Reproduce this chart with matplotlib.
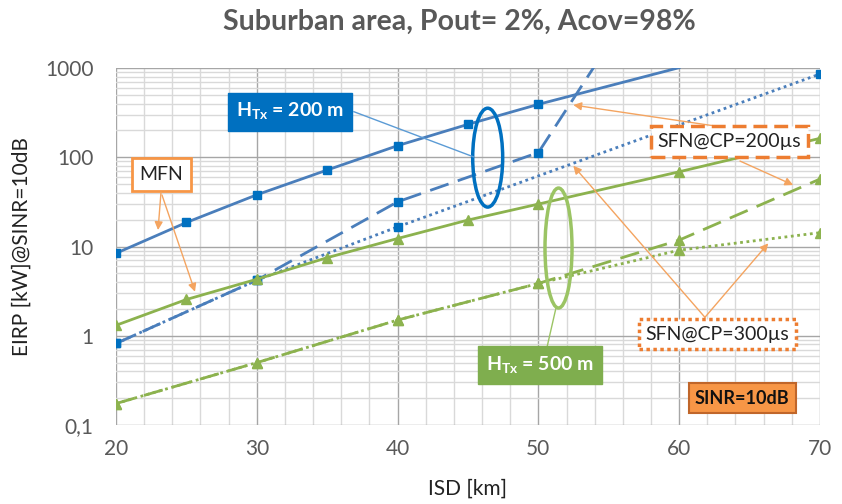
import matplotlib
matplotlib.use('Agg')
import matplotlib.pyplot as plt
from matplotlib.patches import Ellipse
from matplotlib.ticker import FixedLocator, LogLocator, NullFormatter

plt.rcParams['font.family'] = ['Lato', 'DejaVu Sans']
plt.rcParams['mathtext.fontset'] = 'custom'
plt.rcParams['mathtext.bf'] = 'Lato:bold'
plt.rcParams['mathtext.rm'] = 'Lato'

# EIRP needed for SINR=10dB vs. inter-site distance
isd_mfn_200 = [20, 25, 30, 35, 40, 45, 50, 60]
eirp_mfn_200 = [8.4, 18.6, 38, 72, 135, 234, 392, 1010]
isd_cp200_200 = [20, 30, 40, 50, 55]
eirp_cp200_200 = [0.82, 4.2, 31.7, 113, 1850]
isd_cp300_200 = [20, 30, 40, 70]
eirp_cp300_200 = [0.82, 4.2, 16.6, 857]

isd_mfn_500 = [20, 25, 30, 35, 40, 45, 50, 60, 70]
eirp_mfn_500 = [1.31, 2.55, 4.3, 7.5, 12.3, 19.8, 29.9, 68.8, 163]
isd_cp200_500 = [20, 30, 40, 50, 60, 70]
eirp_cp200_500 = [0.174, 0.50, 1.5, 3.86, 11.8, 57]
isd_cp300_500 = [20, 30, 40, 50, 60, 70]
eirp_cp300_500 = [0.174, 0.50, 1.5, 3.86, 9.1, 14.3]

x_ticks = [20, 30, 40, 50, 60, 70]
y_ticks = [0.1, 1, 10, 100, 1000]
y_tick_labels = ['0,1', '1', '10', '100', '1000']

blue = '#4A7EBB'
blue_mk = '#0070C0'
green = '#8CB24E'
green_mk = '#8DB34F'
orange = '#F4A460'
gray_txt = '#595959'

fig = plt.figure(figsize=(8.42, 5.04), dpi=100)
ax = fig.add_axes([0.1378, 0.1567, 0.836, 0.7083])

lw = 2.0
ax.plot(isd_mfn_200, eirp_mfn_200, color=blue, lw=lw, marker='s', ms=5.5,
        mfc=blue_mk, mec=blue_mk, markevery=list(range(len(isd_mfn_200) - 1)), zorder=4)
ax.plot(isd_cp200_200, eirp_cp200_200, color=blue, lw=lw, ls=(0, (7, 3.5)), marker='s', ms=5.5,
        mfc=blue_mk, mec=blue_mk, zorder=4)
ax.plot(isd_cp300_200, eirp_cp300_200, color=blue, lw=lw, ls=(0, (1, 1.3)), marker='s', ms=5.5,
        mfc=blue_mk, mec=blue_mk, zorder=4)
ax.plot(isd_mfn_500, eirp_mfn_500, color=green, lw=lw, marker='^', ms=6.5,
        mfc=green_mk, mec=green_mk, zorder=4)
ax.plot(isd_cp200_500, eirp_cp200_500, color=green, lw=lw, ls=(0, (7, 3.5)), marker='^', ms=6.5,
        mfc=green_mk, mec=green_mk, zorder=4)
ax.plot(isd_cp300_500, eirp_cp300_500, color=green, lw=lw, ls=(0, (1, 1.3)), marker='^', ms=6.5,
        mfc=green_mk, mec=green_mk, zorder=4)

ax.set_yscale('log')
ax.set_xlim(20, 70)
ax.set_ylim(0.1, 1000)
ax.xaxis.set_major_locator(FixedLocator(x_ticks))
ax.xaxis.set_minor_locator(FixedLocator(list(range(20, 71, 2))))
ax.yaxis.set_major_locator(FixedLocator(y_ticks))
ax.set_yticklabels(y_tick_labels)
ax.yaxis.set_minor_locator(LogLocator(base=10, subs=[2, 3, 4, 5, 6, 7, 8, 9]))
ax.yaxis.set_minor_formatter(NullFormatter())
ax.grid(which='major', color='#A6A6A6', lw=1.0)
ax.grid(which='minor', color='#D9D9D9', lw=1.0)
ax.set_axisbelow(True)
for s in ax.spines.values():
    s.set_visible(False)
ax.tick_params(which='both', length=0, labelsize=15, colors=gray_txt)
ax.tick_params(axis='x', pad=10)
ax.tick_params(axis='y', pad=16)

ax.set_xlabel('ISD [km]', fontsize=15, color='#222222', labelpad=14)
ax.set_ylabel('EIRP [kW]@SINR=10dB', fontsize=15, color='#222222', labelpad=10)
fig.text(0.545, 0.956, 'Suburban area, Pout= 2%, Acov=98%', ha='center', va='center',
         fontsize=20.5, fontweight='bold', color=gray_txt)

# ellipses grouping the two antenna heights
ax.add_patch(Ellipse((0.528, 0.749), 0.0426, 0.277, transform=ax.transAxes,
                     fill=False, ec='#0070C0', lw=2.5, zorder=6))
ax.add_patch(Ellipse((0.6286, 0.4958), 0.0384, 0.336, transform=ax.transAxes,
                     fill=False, ec='#9BC464', lw=2.5, zorder=6))
ax.plot([0.338, 0.5075], [0.8776, 0.7515], transform=ax.transAxes, color='#5B9BD5', lw=1, zorder=6)
ax.plot([0.625, 0.612], [0.328, 0.2157], transform=ax.transAxes, color='#9BC464', lw=1, zorder=6)

ax.text(0.247, 0.8776, r'H$_\mathbf{Tx}$ = 200 m', transform=ax.transAxes, ha='center', va='center',
        fontsize=14, fontweight='bold', color='white', zorder=7,
        bbox=dict(boxstyle='square,pad=0.42', fc='#0070C0', ec='#0070C0'))
ax.text(0.6027, 0.168, r'H$_\mathbf{Tx}$ = 500 m', transform=ax.transAxes, ha='center', va='center',
        fontsize=14, fontweight='bold', color='white', zorder=7,
        bbox=dict(boxstyle='square,pad=0.42', fc='#7FAE4E', ec='#7FAE4E'))

# labels with arrows
arrow = dict(arrowstyle='-|>', color=orange, lw=1, mutation_scale=12, shrinkA=0, shrinkB=0)
ax.text(0.0646, 0.7017, 'MFN', transform=ax.transAxes, ha='center', va='center', fontsize=14,
        color='#222222', zorder=7,
        bbox=dict(boxstyle='square,pad=0.4', fc='white', ec='#F79646', lw=2))
for tail, head in [((0.0639, 0.6527), (0.0597, 0.5462)), ((0.0653, 0.6443), (0.1122, 0.3734))]:
    ax.annotate('', xy=head, xytext=tail, xycoords='axes fraction', arrowprops=arrow, zorder=7)

ax.text(0.871, 0.7936, 'SFN@CP=200µs', transform=ax.transAxes, ha='center', va='center', fontsize=14,
        color='#222222', zorder=7,
        bbox=dict(boxstyle='square,pad=0.35', fc='white', ec='#ED7D31', lw=2.5, ls=(0, (4, 2))))
for tail, head in [((0.8484, 0.8384), (0.6496, 0.8964)), ((0.8864, 0.7395), (0.962, 0.6723))]:
    ax.annotate('', xy=head, xytext=tail, xycoords='axes fraction', arrowprops=arrow, zorder=5)

ax.text(0.8544, 0.2549, 'SFN@CP=300µs', transform=ax.transAxes, ha='center', va='center', fontsize=14,
        color='#222222', zorder=7,
        bbox=dict(boxstyle='square,pad=0.35', fc='white', ec='#ED7D31', lw=2.5, ls=(0, (1, 1))))
for tail, head in [((0.8366, 0.3017), (0.6496, 0.7263)), ((0.8366, 0.3017), (0.9266, 0.509))]:
    ax.annotate('', xy=head, xytext=tail, xycoords='axes fraction', arrowprops=arrow, zorder=5)

ax.text(0.8896, 0.0751, 'SINR=10dB', transform=ax.transAxes, ha='center', va='center', fontsize=13,
        fontweight='bold', color='#111111', zorder=7,
        bbox=dict(boxstyle='square,pad=0.35', fc='#F79646', ec='#C0662A', lw=1.5))

fig.savefig('out.png', dpi=100)
